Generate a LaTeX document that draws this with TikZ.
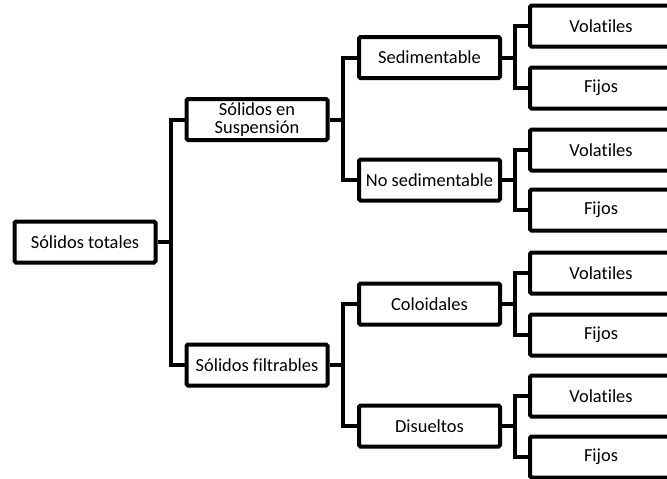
\documentclass[tikz,border=0pt]{standalone}
\usepackage{fontspec}
\setmainfont[Ligatures=NoCommon]{Carlito}

\begin{document}
\begin{tikzpicture}[
        x=1pt, y=-1pt,
        caja/.style={draw, line width=4pt, rounded corners=1.5pt,
            minimum width=141pt, minimum height=41pt, inner sep=0pt,
            align=center, font=\fontsize{18.4}{17.5}\selectfont},
        hoja/.style={caja, minimum width=142pt},
        rama/.style={line width=4pt},
    ]
        \clip (0,0) rectangle (667,479);

        \node[caja] (totales) at (85,242) {Sólidos totales};

        \node[caja] (suspension) at (257,119.5) {Sólidos en\\Suspensión};
        \node[caja] (filtrables) at (257,365) {Sólidos filtrables};

        \node[caja] (sedim) at (429.5,57.5) {Sedimentable};
        \node[caja] (nosedim) at (429.5,180) {No sedimentable};
        \node[caja] (coloid) at (429.5,304) {Coloidales};
        \node[caja] (disuel) at (429.5,426) {Disueltos};

        \node[hoja] (vol1) at (601,26) {Volatiles};
        \node[hoja] (fij1) at (601,88) {Fijos};
        \node[hoja] (vol2) at (601,150) {Volatiles};
        \node[hoja] (fij2) at (601,210) {Fijos};
        \node[hoja] (vol3) at (601,273) {Volatiles};
        \node[hoja] (fij3) at (601,335) {Fijos};
        \node[hoja] (vol4) at (601,396) {Volatiles};
        \node[hoja] (fij4) at (601,457) {Fijos};

        % ramas
        \draw[rama] (totales.east) -- ++(13,0) |- (suspension.west);
        \draw[rama] (totales.east) -- ++(13,0) |- (filtrables.west);
        \draw[rama] (suspension.east) -- ++(13.5,0) |- (sedim.west);
        \draw[rama] (suspension.east) -- ++(13.5,0) |- (nosedim.west);
        \draw[rama] (filtrables.east) -- ++(13.5,0) |- (coloid.west);
        \draw[rama] (filtrables.east) -- ++(13.5,0) |- (disuel.west);
        \draw[rama] (sedim.east) -- ++(13,0) |- (vol1.west);
        \draw[rama] (sedim.east) -- ++(13,0) |- (fij1.west);
        \draw[rama] (nosedim.east) -- ++(13,0) |- (vol2.west);
        \draw[rama] (nosedim.east) -- ++(13,0) |- (fij2.west);
        \draw[rama] (coloid.east) -- ++(13,0) |- (vol3.west);
        \draw[rama] (coloid.east) -- ++(13,0) |- (fij3.west);
        \draw[rama] (disuel.east) -- ++(13,0) |- (vol4.west);
        \draw[rama] (disuel.east) -- ++(13,0) |- (fij4.west);
\end{tikzpicture}
\end{document}
